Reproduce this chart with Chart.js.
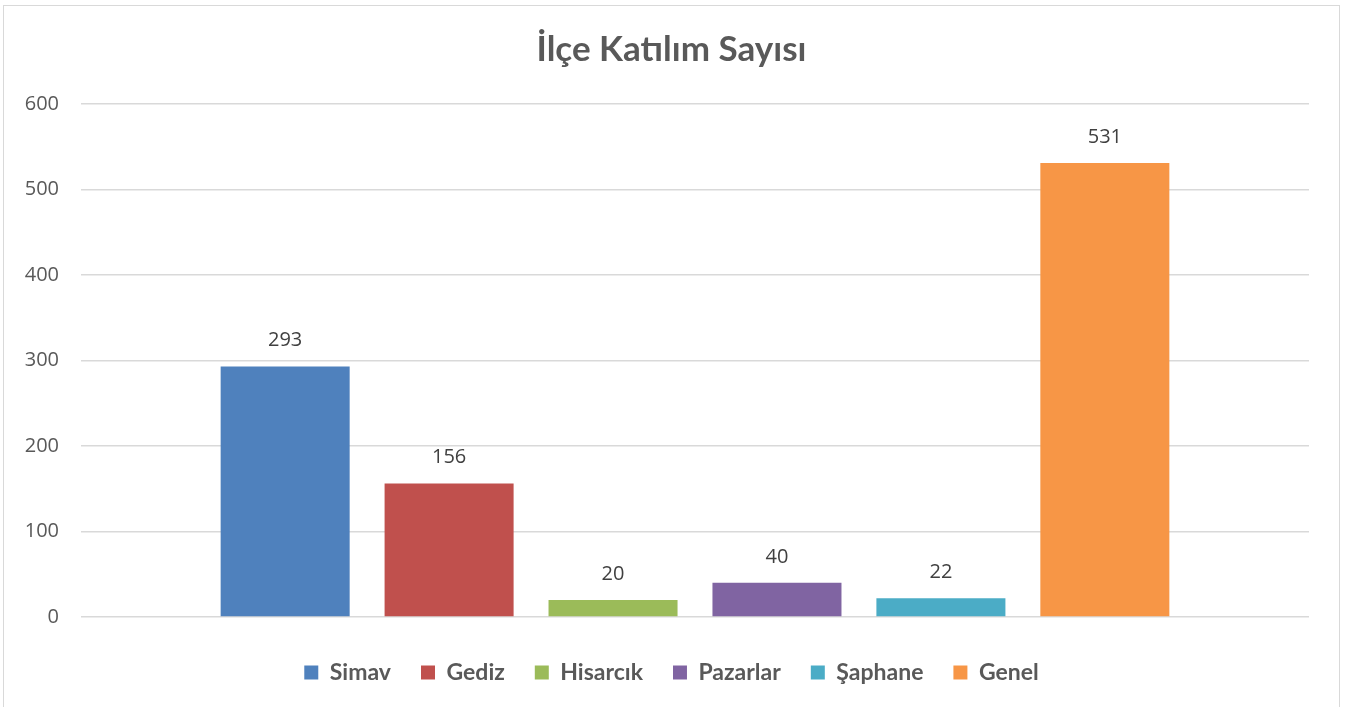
<!DOCTYPE html>
<html>
<head>
<meta charset="utf-8">
<script src="https://cdn.jsdelivr.net/npm/chart.js@4/dist/chart.umd.min.js"></script>
<style>
  html, body { margin: 0; padding: 0; background: #fff; }
  #wrap { position: absolute; left: 3px; top: 5px; width: 1337px; height: 702px; border: 1px solid #d9d9d9; border-bottom: none; box-sizing: border-box; }
  canvas { display: block; }
</style>
</head>
<body>
<div id="wrap"><canvas id="c"></canvas></div>
<script>
const title = "İlçe Katılım Sayısı";
const categories = [""];
const seriesNames = ["Simav", "Gediz", "Hisarcık", "Pazarlar", "Şaphane", "Genel"];
const seriesValues = [293, 156, 20, 40, 22, 531];
const seriesColors = ["#4f81bd", "#c0504d", "#9bbb59", "#8064a2", "#4bacc6", "#f79646"];
const yTicks = [0, 100, 200, 300, 400, 500, 600];

const valueLabels = {
  id: 'valueLabels',
  afterDatasetsDraw(chart) {
    const ctx = chart.ctx;
    ctx.save();
    ctx.font = '20px "Open Sans", "Liberation Sans", sans-serif';
    ctx.fillStyle = '#404040';
    ctx.textAlign = 'center';
    ctx.textBaseline = 'middle';
    chart.data.datasets.forEach((ds, i) => {
      const meta = chart.getDatasetMeta(i);
      meta.data.forEach((bar, j) => {
        ctx.fillText(String(ds.data[j]), bar.x, bar.y - 26);
      });
    });
    ctx.restore();
  }
};

const canvas = document.getElementById('c');
canvas.width = 1335; canvas.height = 701;
new Chart(canvas, {
  type: 'bar',
  data: {
    labels: categories,
    datasets: seriesNames.map((n, i) => ({
      label: n,
      data: [seriesValues[i]],
      backgroundColor: seriesColors[i],
      borderWidth: 0,
      categoryPercentage: 0.801,
      barPercentage: 0.787
    }))
  },
  options: {
    responsive: false,
    animation: false,
    layout: { padding: { left: 2, right: 2, top: 10, bottom: 13 } },
    plugins: {
      title: {
        display: true, text: title,
        color: '#595959',
        font: { family: 'Lato, "Open Sans", sans-serif', size: 35, weight: 'bold' },
        padding: { top: 13, bottom: 33 }
      },
      legend: {
        position: 'bottom',
        labels: {
          color: '#595959',
          font: { family: 'Lato, "Open Sans", sans-serif', size: 23, weight: 'bold' },
          boxWidth: 14, boxHeight: 14, padding: 30
        }
      },
      tooltip: { enabled: false }
    },
    scales: {
      x: {
        grid: { display: false },
        border: { display: false },
        ticks: { display: false },
        afterFit(s) { s.height = 14; }
      },
      y: {
        min: 0, max: 600,
        afterBuildTicks(axis) { axis.ticks = yTicks.map(v => ({ value: v })); },
        afterFit(s) { s.width = 75; },
        grid: { color: '#d9d9d9', lineWidth: 1.5, drawTicks: false },
        border: { display: false },
        ticks: {
          color: '#595959', padding: 22,
          font: { family: '"Open Sans", "Liberation Sans", sans-serif', size: 20 }
        }
      },
      yPad: {
        type: 'linear', position: 'right',
        grid: { display: false },
        border: { display: false },
        ticks: { display: false },
        afterFit(s) { s.width = 28; }
      }
    }
  },
  plugins: [valueLabels]
});
</script>
</body>
</html>
